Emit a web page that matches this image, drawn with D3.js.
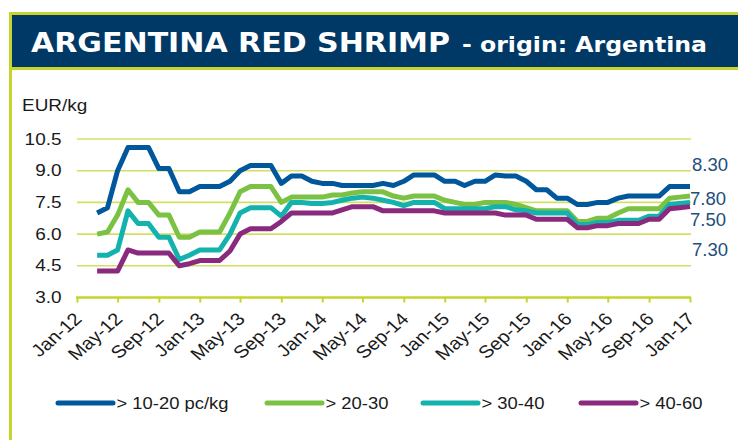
<!DOCTYPE html>
<html>
<head>
<meta charset="utf-8">
<script src="https://cdn.jsdelivr.net/npm/d3@7"></script>
<style>
  html, body { margin: 0; padding: 0; background: #fff; }
  svg { display: block; }
</style>
</head>
<body>
<svg id="chart" width="738" height="440"></svg>
<script>
// monthly prices, Mar-12 .. Jan-17 (EUR/kg)
const startMonth = new Date(2012, 2, 1);

const size10to20 = [7.0, 7.25, 9.0, 10.1, 10.1, 10.1, 9.1, 9.1, 8.0, 8.0,
  8.25, 8.25, 8.25, 8.5, 9.0, 9.25, 9.25, 9.25, 8.4, 8.75, 8.75, 8.5,
  8.4, 8.4, 8.3, 8.3, 8.3, 8.3, 8.4, 8.3, 8.5, 8.8, 8.8, 8.8,
  8.5, 8.5, 8.3, 8.5, 8.5, 8.8, 8.75, 8.75, 8.5, 8.1, 8.1, 7.7,
  7.7, 7.4, 7.4, 7.5, 7.5, 7.7, 7.8, 7.8, 7.8, 7.8, 8.25, 8.25,
  8.25];
const size20to30 = [6.0, 6.1, 6.9, 8.1, 7.5, 7.5, 6.9, 6.9, 5.85, 5.85,
  6.1, 6.1, 6.1, 7.0, 8.0, 8.25, 8.25, 8.25, 7.5, 7.75, 7.75, 7.75,
  7.75, 7.85, 7.85, 7.95, 8.0, 8.0, 8.0, 7.8, 7.7, 7.8, 7.8, 7.8,
  7.6, 7.5, 7.4, 7.4, 7.5, 7.5, 7.5, 7.4, 7.25, 7.1, 7.1, 7.1,
  7.1, 6.6, 6.6, 6.75, 6.75, 7.0, 7.2, 7.2, 7.2, 7.2, 7.7, 7.75,
  7.8];
const size30to40 = [5.0, 5.0, 5.25, 7.1, 6.5, 6.5, 5.85, 5.85, 4.8, 5.0,
  5.25, 5.25, 5.25, 6.0, 7.0, 7.25, 7.25, 7.25, 6.85, 7.5, 7.5, 7.45,
  7.45, 7.5, 7.6, 7.7, 7.75, 7.7, 7.6, 7.5, 7.35, 7.5, 7.5, 7.5,
  7.2, 7.2, 7.2, 7.2, 7.2, 7.3, 7.3, 7.15, 7.1, 7.0, 7.0, 7.0,
  7.0, 6.45, 6.45, 6.55, 6.55, 6.65, 6.65, 6.65, 6.85, 6.85, 7.4, 7.45,
  7.5];
const size40to60 = [4.25, 4.25, 4.25, 5.25, 5.1, 5.1, 5.1, 5.1, 4.5, 4.6,
  4.75, 4.75, 4.75, 5.2, 6.0, 6.25, 6.25, 6.25, 6.6, 7.0, 7.0, 7.0,
  7.0, 7.0, 7.15, 7.3, 7.3, 7.3, 7.1, 7.1, 7.1, 7.1, 7.1, 7.1,
  7.0, 7.0, 7.0, 7.0, 7.0, 7.0, 6.9, 6.9, 6.9, 6.7, 6.7, 6.7,
  6.7, 6.3, 6.3, 6.4, 6.4, 6.5, 6.5, 6.5, 6.7, 6.7, 7.2, 7.25,
  7.3];

const seriesNames = ['> 10-20 pc/kg', '> 20-30', '> 30-40', '> 40-60'];
const seriesColors = ['#00579c', '#7bc143', '#14b2ad', '#8a2a7e'];
const endLabels = ['8.30', '7.80', '7.50', '7.30'];
const yTicks = [3.0, 4.5, 6.0, 7.5, 9.0, 10.5];
const xTickLabels = ['Jan-12', 'May-12', 'Sep-12', 'Jan-13', 'May-13', 'Sep-13',
  'Jan-14', 'May-14', 'Sep-14', 'Jan-15', 'May-15', 'Sep-15',
  'Jan-16', 'May-16', 'Sep-16', 'Jan-17'];

const allSeries = [size10to20, size20to30, size30to40, size40to60];

const svg = d3.select('#chart');
const navy = '#003866';
const border = '#c5d52d';
const gridColor = '#d3df62';
const textFont = '"Liberation Sans", Arial, sans-serif';
const stretch = 1.15;

// header frame
svg.append('rect').attr('x', 9).attr('y', 12).attr('width', 729).attr('height', 3).attr('fill', border);
svg.append('rect').attr('x', 9).attr('y', 12).attr('width', 3).attr('height', 428).attr('fill', border);
svg.append('rect').attr('x', 12).attr('y', 15).attr('width', 726).attr('height', 52).attr('fill', navy);
svg.append('rect').attr('x', 12).attr('y', 67).attr('width', 726).attr('height', 3).attr('fill', border);

svg.append('text')
  .attr('x', 31).attr('y', 52)
  .attr('font-family', '"DejaVu Sans", Verdana, sans-serif')
  .attr('font-weight', 'bold').attr('font-size', 27)
  .attr('fill', '#fff')
  .attr('textLength', 419).attr('lengthAdjust', 'spacingAndGlyphs')
  .text('ARGENTINA RED SHRIMP');
svg.append('text')
  .attr('x', 462).attr('y', 52)
  .attr('font-family', '"DejaVu Sans", Verdana, sans-serif')
  .attr('font-weight', 'bold').attr('font-size', 22)
  .attr('fill', '#fff')
  .attr('textLength', 245).attr('lengthAdjust', 'spacingAndGlyphs')
  .text('- origin: Argentina');

// horizontally stretched text helper
function label(parent, x, y, str, opts = {}) {
  return parent.append('text')
    .attr('transform', `translate(${x},${y}) scale(${opts.sx || stretch},1)` + (opts.rot ? ` rotate(${opts.rot})` : ''))
    .attr('font-family', textFont)
    .attr('font-size', opts.size || 16)
    .attr('fill', opts.fill || '#1a1a1a')
    .attr('text-anchor', opts.anchor || 'start')
    .text(str);
}

label(svg, 22, 111, 'EUR/kg', { size: 16.5 });

const x = d3.scaleTime()
  .domain([new Date(2012, 0, 1), new Date(2017, 0, 1)])
  .range([77, 690]);
const y = d3.scaleLinear().domain([3, 10.5]).range([297.5, 139]);

// gridlines
svg.append('g').selectAll('line')
  .data(yTicks.slice(1))
  .join('line')
  .attr('x1', 77).attr('x2', 691)
  .attr('y1', d => y(d)).attr('y2', d => y(d))
  .attr('stroke', gridColor).attr('stroke-width', 1.6);

// y labels
yTicks.forEach(v => label(svg, 61.5, y(v) + 5.5, d3.format('.1f')(v), { anchor: 'end', size: 16.5 }));

// x axis
const xAxis = svg.append('g').attr('transform', `translate(0,${y(3)})`)
  .call(d3.axisBottom(x)
    .ticks(d3.timeMonth.every(4))
    .tickSize(5)
    .tickFormat(''));
xAxis.select('.domain').attr('stroke', border).attr('stroke-width', 2.5).attr('d', 'M76,0H691');
xAxis.selectAll('.tick line').attr('stroke', border).attr('stroke-width', 2);

const tickDates = x.ticks(d3.timeMonth.every(4));
tickDates.forEach((d, i) => {
  label(svg, x(d) + 6, 320, xTickLabels[i], { anchor: 'end', rot: -45, size: 17.5 });
});

// series lines
const line = d3.line()
  .x((d, i) => x(d3.timeMonth.offset(startMonth, i)))
  .y(d => y(d));

allSeries.forEach((s, k) => {
  svg.append('path')
    .datum(s)
    .attr('d', line)
    .attr('fill', 'none')
    .attr('stroke', seriesColors[k])
    .attr('stroke-width', 5)
    .attr('stroke-linejoin', 'round');
});

// end value labels
const endPos = [[692, 171], [690, 204.5], [690, 226], [692, 255.5]];
endLabels.forEach((t, i) => {
  svg.append('text')
    .attr('x', endPos[i][0]).attr('y', endPos[i][1])
    .attr('font-family', textFont).attr('font-size', 18.5)
    .attr('fill', '#1d4e7c')
    .text(t);
});

// legend
const legendX = [58, 267, 423, 581];
seriesNames.forEach((name, i) => {
  svg.append('line')
    .attr('x1', legendX[i]).attr('x2', legendX[i] + 55)
    .attr('y1', 403).attr('y2', 403)
    .attr('stroke', seriesColors[i]).attr('stroke-width', 5)
    .attr('stroke-linecap', 'round');
  label(svg, legendX[i] + 58.5, 409, name);
});
</script>
</body>
</html>
